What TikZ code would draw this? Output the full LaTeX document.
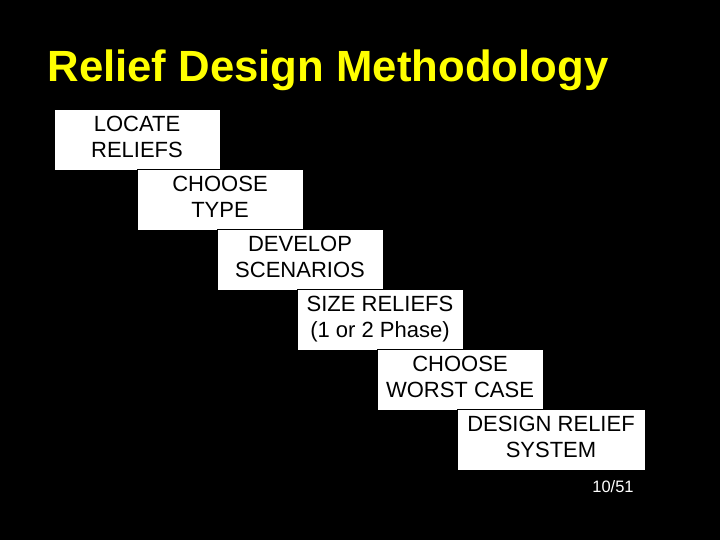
\documentclass[tikz,border=0pt]{standalone}
\usepackage{fontspec}
\setmainfont{Liberation Sans}
\usetikzlibrary{positioning}

\definecolor{titleyellow}{RGB}{255,255,0}

\begin{document}
\begin{tikzpicture}[
            x = 1pt, y = -1pt, % one unit per pixel, y runs down
            stepbox/.style = {
                draw = black,
                fill = white,
                text = black,
                align = center,
                minimum width = 166pt,
                minimum height = 61pt,
                inner sep = 0pt,
                execute at end node = {\rule[-5pt]{0pt}{1pt}}, % lift the text a little
                font = \fontsize{22}{26}\selectfont
            }
        ]

        % slide background
        \fill[black] (0,0) rectangle (720,540);
        \useasboundingbox (0,0) rectangle (720,540);

        \node[anchor = base west, text = titleyellow,
              font = \fontsize{43.7}{48}\selectfont\bfseries] (title) at (44,82)
              {Relief Design Methodology};

        \node[stepbox] (locate)  at (137,139.5) {LOCATE\\RELIEFS};
        \node[stepbox] (choose)  at (220,199.5) {CHOOSE\\TYPE};
        \node[stepbox] (develop) at (300,259.5) {DEVELOP\\SCENARIOS};
        \node[stepbox] (size)    at (380,319.5) {SIZE RELIEFS\\(1 or 2 Phase)};
        \node[stepbox] (worst)   at (460,379.5) {CHOOSE\\WORST CASE};
        \node[stepbox, minimum width = 188pt] (design) at (551,439.5) {DESIGN RELIEF\\SYSTEM};

        \node[text = white, font = \fontsize{16.5}{18}\selectfont] (pagenum) at (613,487) {10/51};
     \end{tikzpicture}
\end{document}
